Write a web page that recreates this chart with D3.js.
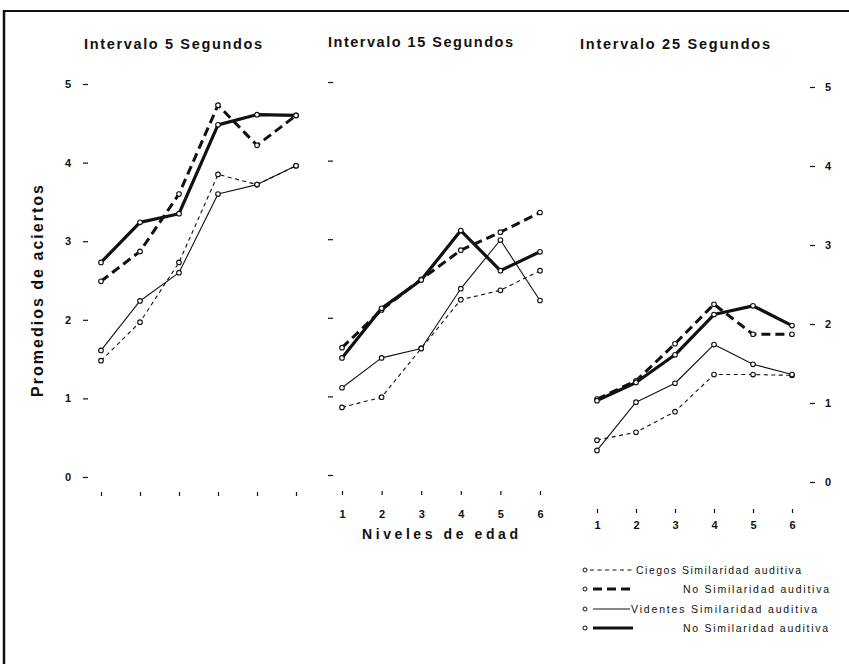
<!DOCTYPE html>
<html>
<head>
<meta charset="utf-8">
<script src="https://cdn.jsdelivr.net/npm/d3@7"></script>
<style>
  html, body { margin: 0; padding: 0; background: #fff; }
  svg { display: block; }
  text { fill: #111; }
</style>
</head>
<body>
<svg id="chart" width="849" height="664"></svg>
<script>
// ---------------- DATA ----------------
const niveles = [1, 2, 3, 4, 5, 6];
const yTicks = [0, 1, 2, 3, 4, 5];
const intervalos = ["Intervalo 5 Segundos", "Intervalo 15 Segundos", "Intervalo 25 Segundos"];

// Intervalo 5 segundos
const ciegosSim5     = [1.48, 1.97, 2.73, 3.85, 3.72, 3.96];
const ciegosNoSim5   = [2.49, 2.87, 3.60, 4.73, 4.22, 4.60];
const videntesSim5   = [1.61, 2.24, 2.60, 3.60, 3.72, 3.96];
const videntesNoSim5 = [2.73, 3.24, 3.35, 4.48, 4.61, 4.60];

// Intervalo 15 segundos
const ciegosSim15     = [0.86, 0.99, 1.61, 2.23, 2.35, 2.60];
const ciegosNoSim15   = [1.62, 2.10, 2.49, 2.86, 3.09, 3.34];
const videntesSim15   = [1.11, 1.49, 1.61, 2.37, 2.99, 2.22];
const videntesNoSim15 = [1.49, 2.12, 2.48, 3.11, 2.60, 2.84];

// Intervalo 25 segundos
const ciegosSim25     = [0.53, 0.63, 0.89, 1.36, 1.36, 1.35];
const ciegosNoSim25   = [1.05, 1.28, 1.75, 2.25, 1.87, 1.87];
const videntesSim25   = [0.40, 1.01, 1.25, 1.74, 1.49, 1.36];
const videntesNoSim25 = [1.03, 1.26, 1.61, 2.12, 2.23, 1.98];

const legendLabels = [
  "Ciegos Similaridad auditiva",
  "No Similaridad auditiva",
  "Videntes Similaridad auditiva",
  "No Similaridad auditiva"
];

// ---------------- STYLE / LAYOUT ----------------
const seriesStyle = [
  { width: 1.1, dash: "4,3.5" },   // ciegos sim
  { width: 3,   dash: "9,5" },     // ciegos no sim
  { width: 1.1, dash: null },      // videntes sim
  { width: 3.2, dash: null }       // videntes no sim
];

const panelData = [
  [ciegosSim5, ciegosNoSim5, videntesSim5, videntesNoSim5],
  [ciegosSim15, ciegosNoSim15, videntesSim15, videntesNoSim15],
  [ciegosSim25, ciegosNoSim25, videntesSim25, videntesNoSim25]
];

const panels = [
  { x: [101, 296], y: [477, 84], axisX: 88,  yAxis: "left",  yLabels: true,  xAxisY: 492, xLabels: false, xPad: 14,
    title: { x: 84, y: 48.5, len: 178 } },
  { x: [342, 540], y: [475, 82], axisX: 333, yAxis: "left",  yLabels: false, xAxisY: 491, xLabels: true, xPad: 15,
    title: { x: 328, y: 47, len: 185 } },
  { x: [597, 792], y: [482, 87], axisX: 810, yAxis: "right", yLabels: true,  xAxisY: 509, xLabels: true, xPad: 8,
    title: { x: 580, y: 49, len: 190 } }
];

const svg = d3.select("#chart");
const FONT = "'Liberation Sans', Arial, sans-serif";

// border (top and left)
svg.append("line").attr("x1", 3).attr("x2", 849).attr("y1", 11).attr("y2", 11)
  .attr("stroke", "#111").attr("stroke-width", 2);
svg.append("line").attr("x1", 4).attr("x2", 4).attr("y1", 10).attr("y2", 664)
  .attr("stroke", "#111").attr("stroke-width", 2.5);

panels.forEach((p, i) => {
  const g = svg.append("g");
  const x = d3.scaleLinear().domain([1, 6]).range(p.x);
  const y = d3.scaleLinear().domain([0, 5]).range(p.y);

  // title
  g.append("text")
    .attr("x", p.title.x).attr("y", p.title.y)
    .attr("font-family", FONT).attr("font-weight", "bold").attr("font-size", 14.5)
    .attr("textLength", p.title.len).attr("lengthAdjust", "spacing")
    .text(intervalos[i]);

  // y axis
  const ya = (p.yAxis === "left" ? d3.axisLeft(y) : d3.axisRight(y))
    .tickValues(yTicks).tickSize(5).tickPadding(p.yAxis === "left" ? 12 : 10)
    .tickFormat(p.yLabels ? d3.format("d") : () => "");
  const yg = g.append("g").attr("transform", `translate(${p.axisX},0)`).call(ya);
  yg.select(".domain").remove();
  yg.selectAll("line").attr("stroke", "#111").attr("stroke-width", 1.2);
  yg.selectAll("text").attr("font-family", FONT).attr("font-weight", "bold").attr("font-size", 11).attr("fill", "#111");

  // x axis
  const xa = d3.axisBottom(x).tickValues(niveles).tickSize(4).tickPadding(p.xPad)
    .tickFormat(p.xLabels ? d3.format("d") : () => "");
  const xg = g.append("g").attr("transform", `translate(0,${p.xAxisY})`).call(xa);
  xg.select(".domain").remove();
  xg.selectAll("line").attr("stroke", "#111").attr("stroke-width", 1.2);
  xg.selectAll("text").attr("font-family", FONT).attr("font-weight", "bold").attr("font-size", 11).attr("fill", "#111");

  // series
  const line = d3.line().x((d, k) => x(niveles[k])).y(d => y(d));
  panelData[i].forEach((vals, s) => {
    const st = seriesStyle[s];
    g.append("path").datum(vals)
      .attr("d", line)
      .attr("fill", "none").attr("stroke", "#111")
      .attr("stroke-width", st.width)
      .attr("stroke-dasharray", st.dash)
      .attr("stroke-linejoin", "round");
  });
  panelData[i].forEach((vals) => {
    g.selectAll(null).data(vals).enter().append("circle")
      .attr("cx", (d, k) => x(niveles[k])).attr("cy", d => y(d))
      .attr("r", 2.3).attr("fill", "#fff").attr("stroke", "#111").attr("stroke-width", 1.1);
  });
});

// axis titles
svg.append("text")
  .attr("transform", "translate(43,291) rotate(-90)")
  .attr("text-anchor", "middle")
  .attr("font-family", FONT).attr("font-weight", "bold").attr("font-size", 16)
  .attr("textLength", 212).attr("lengthAdjust", "spacing")
  .text("Promedios de aciertos");

svg.append("text")
  .attr("x", 362).attr("y", 538.5)
  .attr("font-family", FONT).attr("font-weight", "bold").attr("font-size", 14)
  .attr("textLength", 156).attr("lengthAdjust", "spacing")
  .text("Niveles de edad");

// legend
const legendRows = [
  { y: 570, lx1: 590, lx2: 635, tx: 636, len: 165 },
  { y: 589, lx1: 593, lx2: 633, tx: 683, len: 146 },
  { y: 609, lx1: 593, lx2: 630, tx: 631, len: 186 },
  { y: 628, lx1: 593, lx2: 633, tx: 683, len: 145 }
];
const lg = svg.append("g");
legendLabels.forEach((lab, i) => {
  const r = legendRows[i], st = seriesStyle[i];
  lg.append("circle").attr("cx", 585).attr("cy", r.y).attr("r", 2)
    .attr("fill", "#fff").attr("stroke", "#111").attr("stroke-width", 1);
  lg.append("line").attr("x1", r.lx1).attr("x2", r.lx2).attr("y1", r.y).attr("y2", r.y)
    .attr("stroke", "#111").attr("stroke-width", st.width)
    .attr("stroke-dasharray", st.dash);
  lg.append("text").attr("x", r.tx).attr("y", r.y + 3.5)
    .attr("font-family", FONT).attr("font-size", 10.5)
    .attr("textLength", r.len).attr("lengthAdjust", "spacing")
    .text(lab);
});
</script>
</body>
</html>
